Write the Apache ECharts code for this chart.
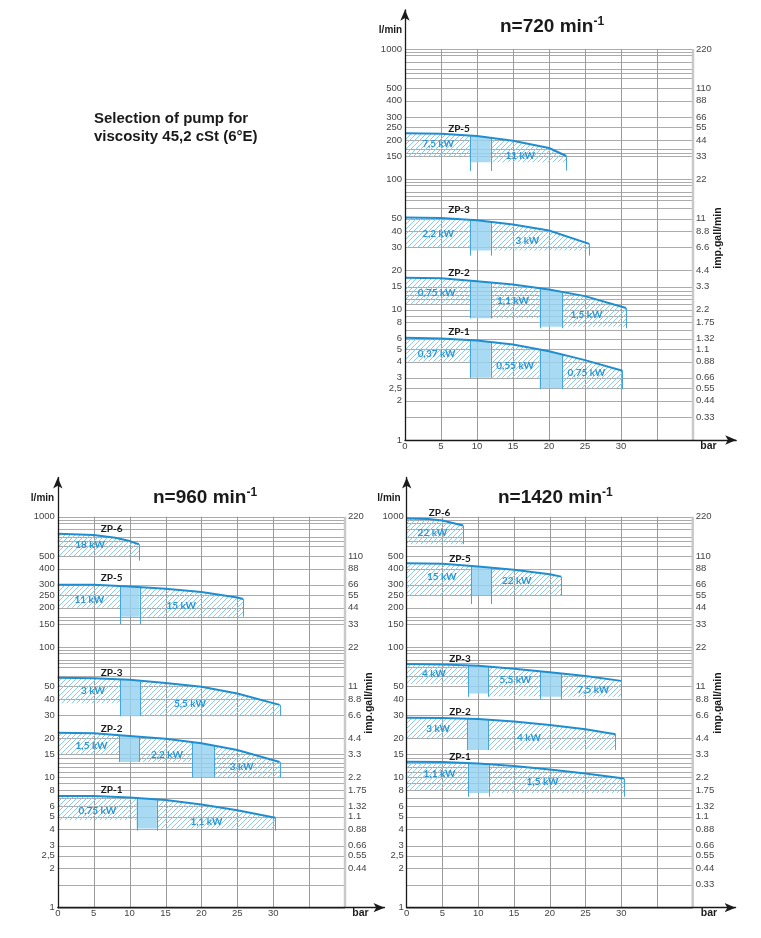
<!DOCTYPE html>
<html>
<head>
<meta charset="utf-8">
<title>Selection of pump for viscosity 45,2 cSt</title>
<script src="https://cdn.jsdelivr.net/npm/echarts@6.0.0/dist/echarts.min.js"></script>
<style>
html,body{margin:0;padding:0;background:#ffffff;}
#chart{width:761px;height:938px;}
</style>
</head>
<body>
<div id="chart"></div>
<script>
// ================= Axis values =================
const barTicks = [0, 5, 10, 15, 20, 25, 30];
const barGrid = [5, 10, 15, 20, 25, 30, 35];
const barRightAxis = 40;
const flowGrid = [1, 1.5, 2, 2.5, 3, 4, 5, 6, 7, 8, 9, 10, 11, 12, 13, 14, 15, 20, 30, 40, 50, 60, 70, 75, 80, 90, 95,
  100, 150, 160, 170, 200, 250, 300, 400, 500, 600, 650, 700, 800, 900, 950, 1000];
const flowTicks = [1, 2, 2.5, 3, 4, 5, 6, 8, 10, 15, 20, 30, 40, 50, 100, 150, 200, 250, 300, 400, 500, 1000];
const gallAtFlow = [1.5, 2, 2.5, 3, 4, 5, 6, 8, 10, 15, 20, 30, 40, 50, 100, 150, 200, 250, 300, 400, 500, 1000];
const gallTicks = ['0.33', '0.44', '0.55', '0.66', '0.88', '1.1', '1.32', '1.75', '2.2', '3.3', '4.4', '6.6', '8.8',
  '11', '22', '33', '44', '55', '66', '88', '110', '220'];

// ================= n = 720 min-1 =================
// curve: [bar, l/min]; zones (hatched): [fromBar, toBar, lowerFlow]; overlap (solid): [fromBar, toBar, lowerFlow]
// edges (vertical lines): [bar, lowerFlow]
const n720_ZP5_curve = [[0, 226], [5, 224], [10, 215], [15, 198], [20, 174], [22.4, 151]];
const n720_ZP5_zones = [[0, 9, 150], [11.9, 22.4, 135]];
const n720_ZP5_kW = ['7,5 kW', '11 kW'];
const n720_ZP5_overlap = [[9, 11.9, 135]];
const n720_ZP5_edges = [[9, 116], [11.9, 116], [22.4, 117]];

const n720_ZP3_curve = [[0, 51], [5, 50.5], [10, 48.5], [15, 45], [20, 40.5], [25.6, 32]];
const n720_ZP3_zones = [[0, 9, 30], [11.9, 25.6, 28.4]];
const n720_ZP3_kW = ['2,2 kW', '3 kW'];
const n720_ZP3_overlap = [[9, 11.9, 28.4]];
const n720_ZP3_edges = [[9, 26], [11.9, 26], [25.6, 26]];

const n720_ZP2_curve = [[0, 17.6], [5, 17.4], [10, 16.5], [15, 15.6], [20, 14.3], [25, 12.7], [30.7, 10.3]];
const n720_ZP2_zones = [[0, 9, 11], [11.9, 18.7, 8.6], [21.8, 30.7, 7.4]];
const n720_ZP2_kW = ['0,75 kW', '1,1 kW', '1,5 kW'];
const n720_ZP2_overlap = [[9, 11.9, 8.6], [18.7, 21.8, 7.4]];
const n720_ZP2_edges = [[9, 8.6], [11.9, 8.6], [18.7, 7.2], [21.8, 7.2], [30.7, 7.2]];

const n720_ZP1_curve = [[0, 6.1], [5, 6.0], [10, 5.8], [15, 5.4], [20, 4.8], [25, 4.1], [30.2, 3.4]];
const n720_ZP1_zones = [[0, 9, 4], [11.9, 18.7, 3], [21.8, 30.2, 2.5]];
const n720_ZP1_kW = ['0,37 kW', '0,55 kW', '0,75 kW'];
const n720_ZP1_overlap = [[9, 11.9, 3], [18.7, 21.8, 2.5]];
const n720_ZP1_edges = [[9, 3], [11.9, 3], [18.7, 2.45], [21.8, 2.45], [30.2, 2.45]];

// ================= n = 960 min-1 =================
const n960_ZP6_curve = [[0, 740], [5, 725], [8, 690], [10, 650], [11.3, 615]];
const n960_ZP6_zones = [[0, 11.3, 500]];
const n960_ZP6_kW = ['18 kW'];
const n960_ZP6_overlap = [];
const n960_ZP6_edges = [[11.3, 460]];

const n960_ZP5_curve = [[0, 300], [5, 300], [10, 292], [15, 280], [20, 264], [25, 240], [25.8, 234]];
const n960_ZP5_zones = [[0, 8.65, 200], [11.4, 25.8, 171]];
const n960_ZP5_kW = ['11 kW', '15 kW'];
const n960_ZP5_overlap = [[8.65, 11.4, 171]];
const n960_ZP5_edges = [[8.65, 150], [11.4, 150], [25.8, 171]];

const n960_ZP3_curve = [[0, 58], [5, 57.5], [10, 56], [15, 53], [20, 49.5], [25, 44], [30.9, 36]];
const n960_ZP3_zones = [[0, 8.65, 37], [11.5, 30.9, 29.5]];
const n960_ZP3_kW = ['3 kW', '5,5 kW'];
const n960_ZP3_overlap = [[8.65, 11.5, 29.5]];
const n960_ZP3_edges = [[8.65, 29.5], [11.5, 29.5], [30.9, 29.5]];

const n960_ZP2_curve = [[0, 22], [5, 21.8], [10, 20.8], [15, 19.8], [20, 18.3], [25, 16.2], [30.9, 13.1]];
const n960_ZP2_zones = [[0, 8.55, 15], [11.35, 18.7, 13.1], [21.8, 30.9, 10]];
const n960_ZP2_kW = ['1,5 kW', '2,2 kW', '3 kW'];
const n960_ZP2_overlap = [[8.55, 11.35, 13.1], [18.7, 21.8, 10]];
const n960_ZP2_edges = [[8.55, 13.1], [11.35, 13.1], [18.7, 10], [21.8, 10], [30.9, 10]];

const n960_ZP1_curve = [[0, 7.2], [5, 7.2], [10, 7.0], [15, 6.7], [20, 6.2], [25, 5.6], [30.3, 4.9]];
const n960_ZP1_zones = [[0, 10.97, 4.7], [13.8, 30.3, 4.05]];
const n960_ZP1_kW = ['0,75 kW', '1,1 kW'];
const n960_ZP1_overlap = [[10.97, 13.8, 4.05]];
const n960_ZP1_edges = [[10.97, 3.9], [13.8, 3.9], [30.3, 3.9]];

// ================= n = 1420 min-1 =================
const n1420_ZP6_curve = [[0, 970], [3, 960], [5, 935], [7.9, 855]];
const n1420_ZP6_zones = [[0, 7.9, 615]];
const n1420_ZP6_kW = ['22 kW'];
const n1420_ZP6_overlap = [];
const n1420_ZP6_edges = [[7.9, 615]];

const n1420_ZP5_curve = [[0, 440], [5, 435], [10, 415], [15, 392], [20, 362], [21.6, 347]];
const n1420_ZP5_zones = [[0, 9, 250], [11.8, 21.6, 250]];
const n1420_ZP5_kW = ['15 kW', '22 kW'];
const n1420_ZP5_overlap = [[9, 11.8, 250]];
const n1420_ZP5_edges = [[9, 214], [11.8, 214], [21.6, 250]];

const n1420_ZP3_curve = [[0, 74], [5, 73.5], [10, 72], [15, 68], [20, 64], [25, 60], [30, 55]];
const n1420_ZP3_zones = [[0, 8.6, 52], [11.4, 18.7, 42], [21.6, 30, 41.5]];
const n1420_ZP3_kW = ['4 kW', '5,5 kW', '7,5 kW'];
const n1420_ZP3_overlap = [[8.6, 11.4, 44], [18.7, 21.6, 41.6]];
const n1420_ZP3_edges = [[8.6, 41.5], [11.4, 41.5], [18.7, 39.6], [21.6, 39.6], [30, 41.5]];

const n1420_ZP2_curve = [[0, 28.7], [5, 28.6], [10, 28], [15, 26.8], [20, 25.2], [25, 23.4], [29.2, 21.4]];
const n1420_ZP2_zones = [[0, 8.48, 20], [11.4, 29.2, 16.2]];
const n1420_ZP2_kW = ['3 kW', '4 kW'];
const n1420_ZP2_overlap = [[8.48, 11.4, 16.2]];
const n1420_ZP2_edges = [[8.48, 16.2], [11.4, 16.2], [29.2, 16.2]];

const n1420_ZP1_curve = [[0, 13.2], [5, 13.1], [10, 12.8], [15, 12.2], [20, 11.5], [25, 10.7], [30.4, 9.8]];
const n1420_ZP1_zones = [[0, 8.6, 8], [11.47, 30.4, 7.6]];
const n1420_ZP1_kW = ['1,1 kW', '1,5 kW'];
const n1420_ZP1_overlap = [[8.6, 11.47, 7.6]];
const n1420_ZP1_edges = [[8.6, 7.1], [11.47, 7.1], [30.4, 7.1]];

// ================= Layout: text anchors (bar, l/min): pump name first, then power labels =================
const n720_ZP5_textAt = [[7.5, 245], [4.6, 189], [16, 151]];
const n720_ZP3_textAt = [[7.5, 58], [4.6, 38.4], [17, 33.5]];
const n720_ZP2_textAt = [[7.5, 19.2], [4.4, 13.4], [15, 11.7], [25.2, 9.1]];
const n720_ZP1_textAt = [[7.5, 6.8], [4.4, 4.6], [15.3, 3.7], [25.2, 3.3]];
const n960_ZP6_textAt = [[7.5, 806], [4.5, 608]];
const n960_ZP5_textAt = [[7.5, 337], [4.4, 230], [17.2, 208]];
const n960_ZP3_textAt = [[7.5, 63.6], [4.9, 46], [18.4, 36.6]];
const n960_ZP2_textAt = [[7.5, 23.8], [4.7, 17.5], [15.2, 15], [25.6, 12.1]];
const n960_ZP1_textAt = [[7.5, 8], [5.5, 5.5], [20.7, 4.57]];
const n1420_ZP6_textAt = [[4.6, 1064], [3.6, 747]];
const n1420_ZP5_textAt = [[7.45, 475], [4.9, 347], [15.4, 322]];
const n1420_ZP3_textAt = [[7.45, 80.6], [3.8, 62], [15.2, 56], [26.1, 46.9]];
const n1420_ZP2_textAt = [[7.45, 31.6], [4.4, 23.5], [17.1, 20.3]];
const n1420_ZP1_textAt = [[7.45, 14.4], [4.6, 10.6], [19, 9.2]];

function pump(name, curve, zones, kW, overlap, edges, textAt) {
  return { name, curve, zones, kW, overlap, edges, textAt };
}
const pumps720 = [
  pump('ZP-5', n720_ZP5_curve, n720_ZP5_zones, n720_ZP5_kW, n720_ZP5_overlap, n720_ZP5_edges, n720_ZP5_textAt),
  pump('ZP-3', n720_ZP3_curve, n720_ZP3_zones, n720_ZP3_kW, n720_ZP3_overlap, n720_ZP3_edges, n720_ZP3_textAt),
  pump('ZP-2', n720_ZP2_curve, n720_ZP2_zones, n720_ZP2_kW, n720_ZP2_overlap, n720_ZP2_edges, n720_ZP2_textAt),
  pump('ZP-1', n720_ZP1_curve, n720_ZP1_zones, n720_ZP1_kW, n720_ZP1_overlap, n720_ZP1_edges, n720_ZP1_textAt)
];
const pumps960 = [
  pump('ZP-6', n960_ZP6_curve, n960_ZP6_zones, n960_ZP6_kW, n960_ZP6_overlap, n960_ZP6_edges, n960_ZP6_textAt),
  pump('ZP-5', n960_ZP5_curve, n960_ZP5_zones, n960_ZP5_kW, n960_ZP5_overlap, n960_ZP5_edges, n960_ZP5_textAt),
  pump('ZP-3', n960_ZP3_curve, n960_ZP3_zones, n960_ZP3_kW, n960_ZP3_overlap, n960_ZP3_edges, n960_ZP3_textAt),
  pump('ZP-2', n960_ZP2_curve, n960_ZP2_zones, n960_ZP2_kW, n960_ZP2_overlap, n960_ZP2_edges, n960_ZP2_textAt),
  pump('ZP-1', n960_ZP1_curve, n960_ZP1_zones, n960_ZP1_kW, n960_ZP1_overlap, n960_ZP1_edges, n960_ZP1_textAt)
];
const pumps1420 = [
  pump('ZP-6', n1420_ZP6_curve, n1420_ZP6_zones, n1420_ZP6_kW, n1420_ZP6_overlap, n1420_ZP6_edges, n1420_ZP6_textAt),
  pump('ZP-5', n1420_ZP5_curve, n1420_ZP5_zones, n1420_ZP5_kW, n1420_ZP5_overlap, n1420_ZP5_edges, n1420_ZP5_textAt),
  pump('ZP-3', n1420_ZP3_curve, n1420_ZP3_zones, n1420_ZP3_kW, n1420_ZP3_overlap, n1420_ZP3_edges, n1420_ZP3_textAt),
  pump('ZP-2', n1420_ZP2_curve, n1420_ZP2_zones, n1420_ZP2_kW, n1420_ZP2_overlap, n1420_ZP2_edges, n1420_ZP2_textAt),
  pump('ZP-1', n1420_ZP1_curve, n1420_ZP1_zones, n1420_ZP1_kW, n1420_ZP1_overlap, n1420_ZP1_edges, n1420_ZP1_textAt)
];

// ================= Styles =================
const C_CURVE = '#1f8ed0';
const C_KW = '#2a97d6';
const C_BOX = 'rgba(150,210,240,0.82)';
const C_EDGE = '#46a5db';
const C_HATCH = '#8ccaea';
const C_GRID = '#ababab';
const C_VGRID = '#9c9c9c';
const C_RAXIS = '#c9c9c9';
const C_TICK = '#444444';
const C_DARK = '#1a1a1a';
const F_TICK = '"Liberation Sans", Arial, sans-serif';
const F_LBL = 'Lato, "Open Sans", sans-serif';

const PX_DECADE = 130.33;
const LOG_MAX = 2000;
const GRID_H = PX_DECADE * Math.log10(LOG_MAX);

const panels = [
  { pumps: pumps720, left: 405, pxBar: 7.2, xMax: 46, bottomY: 440, gallFrom: 0 },
  { pumps: pumps960, left: 57.8, pxBar: 7.18, xMax: 45.5, bottomY: 907.7, gallFrom: 1 },
  { pumps: pumps1420, left: 406.7, pxBar: 7.15, xMax: 46, bottomY: 907.7, gallFrom: 0 }
];

function makeHatch() {
  const s = 5;
  const c = document.createElement('canvas');
  c.width = s; c.height = s;
  const g = c.getContext('2d');
  g.strokeStyle = C_HATCH;
  g.lineWidth = 1;
  g.beginPath();
  g.moveTo(0, s); g.lineTo(s, 0);
  g.moveTo(-1, 1); g.lineTo(1, -1);
  g.moveTo(s - 1, s + 1); g.lineTo(s + 1, s - 1);
  g.stroke();
  return c;
}
const hatchCanvas = makeHatch();

function crisp(v) { return Math.round(v) + 0.5; }

function curvePix(api, curve, x) {
  for (let i = 0; i < curve.length - 1; i++) {
    const a = curve[i], b = curve[i + 1];
    if (x >= a[0] && x <= b[0]) {
      const pa = api.coord(a), pb = api.coord(b);
      const t = (x - a[0]) / (b[0] - a[0]);
      return [pa[0] + (pb[0] - pa[0]) * t, pa[1] + (pb[1] - pa[1]) * t];
    }
  }
  return api.coord(curve[curve.length - 1]);
}
function regionPoints(api, curve, x0, x1, base) {
  const pts = [api.coord([x0, base]), curvePix(api, curve, x0)];
  curve.forEach(p => { if (p[0] > x0 && p[0] < x1) pts.push(api.coord(p)); });
  pts.push(curvePix(api, curve, x1));
  pts.push(api.coord([x1, base]));
  return pts;
}
function fmtFlow(v) { return String(v).replace('.', ','); }

const grids = [], xAxes = [], yAxes = [], series = [];

panels.forEach((pn, i) => {
  const width = pn.pxBar * pn.xMax;
  grids.push({ left: pn.left, top: pn.bottomY - GRID_H, width: width, height: GRID_H, containLabel: false });
  xAxes.push({
    gridIndex: i, type: 'value', min: 0, max: pn.xMax, interval: 5, z: 10,
    axisLine: { show: true, onZero: false, symbol: ['none', 'arrow'], symbolSize: [7, 11], lineStyle: { color: '#1a1a1a', width: 1.3 } },
    axisTick: { show: false }, splitLine: { show: false },
    axisLabel: { margin: 1, color: C_TICK, fontSize: 9.5, fontFamily: F_TICK,
      formatter: v => (barTicks.indexOf(v) >= 0 ? String(v) : '') }
  });
  yAxes.push({
    gridIndex: i, type: 'log', logBase: 10, min: 1, max: LOG_MAX, z: 10,
    axisLine: { show: true, onZero: false, symbol: ['none', 'arrow'], symbolSize: [7, 11], lineStyle: { color: '#1a1a1a', width: 1.3 } },
    axisTick: { show: false }, splitLine: { show: false }, axisLabel: { show: false }
  });
  const ax = { xAxisIndex: i, yAxisIndex: i, silent: true, animation: false };

  // horizontal grid lines
  series.push(Object.assign({
    type: 'custom', z: 1, data: flowGrid.map(v => [0, v]),
    renderItem: (p, api) => {
      const a = api.coord([0, api.value(1)]), b = api.coord([barRightAxis, api.value(1)]);
      const y = crisp(a[1]);
      return { type: 'line', shape: { x1: a[0], y1: y, x2: b[0], y2: y }, style: { stroke: C_GRID, lineWidth: 1 } };
    }
  }, ax));
  // vertical grid lines
  series.push(Object.assign({
    type: 'custom', z: 1, data: barGrid.map(b => [b, 1]),
    renderItem: (p, api) => {
      const a = api.coord([api.value(0), 1]), b = api.coord([api.value(0), 1000]);
      const x = crisp(a[0]);
      return { type: 'line', shape: { x1: x, y1: a[1], x2: x, y2: b[1] }, style: { stroke: C_VGRID, lineWidth: 1 } };
    }
  }, ax));
  // right (imp.gall/min) axis line
  series.push(Object.assign({
    type: 'custom', z: 1, data: [[barRightAxis, 1]],
    renderItem: (p, api) => {
      const a = api.coord([api.value(0), 1]), b = api.coord([api.value(0), 1000]);
      return { type: 'line', shape: { x1: a[0], y1: a[1], x2: b[0], y2: b[1] }, style: { stroke: C_RAXIS, lineWidth: 2.5 } };
    }
  }, ax));
  // left tick labels
  series.push(Object.assign({
    type: 'custom', z: 6, data: flowTicks.map(v => [0, v]),
    renderItem: (p, api) => {
      const a = api.coord([0, api.value(1)]);
      return { type: 'text', x: a[0] - 3, y: a[1], style: { text: fmtFlow(api.value(1)), fill: C_TICK, fontSize: 9.5, fontFamily: F_TICK,
        align: 'right', verticalAlign: 'middle', textAlign: 'right', textVerticalAlign: 'middle' } };
    }
  }, ax));
  // right tick labels
  const gFlows = gallAtFlow.slice(pn.gallFrom), gTicks = gallTicks.slice(pn.gallFrom);
  series.push(Object.assign({
    type: 'custom', z: 6, data: gFlows.map(v => [barRightAxis, v]),
    renderItem: (p, api) => {
      const a = api.coord([barRightAxis, api.value(1)]);
      return { type: 'text', x: a[0] + 3, y: a[1], style: { text: gTicks[p.dataIndex], fill: C_TICK, fontSize: 9.5, fontFamily: F_TICK,
        align: 'left', verticalAlign: 'middle', textAlign: 'left', textVerticalAlign: 'middle' } };
    }
  }, ax));

  // hatched zones, overlap boxes, edges, labels
  const hatchList = [], boxList = [], edgeList = [], textList = [];
  pn.pumps.forEach(pm => {
    pm.zones.forEach(z => hatchList.push({ curve: pm.curve, x0: z[0], x1: z[1], base: z[2] }));
    pm.overlap.forEach(z => boxList.push({ curve: pm.curve, x0: z[0], x1: z[1], base: z[2] }));
    pm.edges.forEach(e => edgeList.push({ curve: pm.curve, x: e[0], low: e[1] }));
    textList.push({ at: pm.textAt[0], text: pm.name, color: C_DARK });
    pm.kW.forEach((t, k) => textList.push({ at: pm.textAt[k + 1], text: t, color: C_KW }));
  });
  series.push(Object.assign({
    type: 'custom', z: 2, data: hatchList.map(h => [h.x0, h.base]),
    renderItem: (p, api) => {
      const h = hatchList[p.dataIndex];
      return { type: 'polygon', shape: { points: regionPoints(api, h.curve, h.x0, h.x1, h.base) },
        style: { fill: { image: hatchCanvas, repeat: 'repeat' } } };
    }
  }, ax));
  series.push(Object.assign({
    type: 'custom', z: 3, data: boxList.map(h => [h.x0, h.base]),
    renderItem: (p, api) => {
      const h = boxList[p.dataIndex];
      return { type: 'polygon', shape: { points: regionPoints(api, h.curve, h.x0, h.x1, h.base) }, style: { fill: C_BOX } };
    }
  }, ax));
  series.push(Object.assign({
    type: 'custom', z: 4, data: edgeList.map(e => [e.x, e.low]),
    renderItem: (p, api) => {
      const e = edgeList[p.dataIndex];
      const top = curvePix(api, e.curve, e.x), bot = api.coord([e.x, e.low]);
      const x = crisp(top[0]);
      return { type: 'line', shape: { x1: x, y1: top[1], x2: x, y2: bot[1] }, style: { stroke: C_EDGE, lineWidth: 1 } };
    }
  }, ax));
  pn.pumps.forEach(pm => {
    series.push(Object.assign({
      type: 'line', name: pm.name, z: 5, data: pm.curve, symbol: 'none', showSymbol: false,
      lineStyle: { color: C_CURVE, width: 2 }
    }, ax));
  });
  series.push(Object.assign({
    type: 'custom', z: 6, data: textList.map(t => t.at),
    renderItem: (p, api) => {
      const t = textList[p.dataIndex];
      const a = api.coord(t.at);
      return { type: 'text', x: a[0], y: a[1], style: { text: t.text, fill: t.color, fontSize: 10, fontWeight: 'bold', fontFamily: F_LBL,
        align: 'center', verticalAlign: 'middle', textAlign: 'center', textVerticalAlign: 'middle' } };
    }
  }, ax));
});

// ================= Texts =================
function txt(x, y, text, opts) {
  return Object.assign({ type: 'text', x: x, y: y, silent: true,
    style: Object.assign({ text: text, fill: C_DARK, fontFamily: F_TICK, fontWeight: 'bold', fontSize: 10,
      align: 'center', verticalAlign: 'middle', textAlign: 'center', textVerticalAlign: 'middle' }, opts.style || {}) },
    opts.el || {});
}
const titleRich = {
  m: { fontSize: 19, fontWeight: 'bold', fontFamily: F_TICK, fill: C_DARK, color: C_DARK, lineHeight: 22, verticalAlign: 'middle' },
  s: { fontSize: 12, fontWeight: 'bold', fontFamily: F_TICK, fill: C_DARK, color: C_DARK, lineHeight: 22, verticalAlign: 'top' }
};
const titles = [['n=720 min', 500, 27], ['n=960 min', 153, 498], ['n=1420 min', 498, 498]];
const graphics = [];
titles.forEach(t => graphics.push(txt(t[1], t[2], '{m|' + t[0] + '}{s|-1}', { style: { rich: titleRich, align: 'left', textAlign: 'left' } })));
[[390.5, 30.5], [42.5, 498.5], [389, 498.5]].forEach(p => graphics.push(txt(p[0], p[1], 'l/min', {})));
[[708.5, 446.5], [360.5, 913.5], [709, 913.5]].forEach(p => graphics.push(txt(p[0], p[1], 'bar', { style: { fontSize: 10.5 } })));
[[718, 238], [369, 703], [718, 703]].forEach(p => graphics.push(txt(p[0], p[1], 'imp.gall/min', { style: { fontSize: 10.5 }, el: { rotation: Math.PI / 2 } })));
graphics.push(txt(94, 119, 'Selection of pump for', { style: { fontSize: 15, align: 'left', textAlign: 'left' } }));
graphics.push(txt(94, 136.5, 'viscosity 45,2 cSt (6°E)', { style: { fontSize: 15, align: 'left', textAlign: 'left' } }));

const chart = echarts.init(document.getElementById('chart'), null, { renderer: 'canvas' });
chart.setOption({
  animation: false,
  backgroundColor: '#ffffff',
  grid: grids,
  xAxis: xAxes,
  yAxis: yAxes,
  series: series,
  graphic: graphics
});
</script>
</body>
</html>
